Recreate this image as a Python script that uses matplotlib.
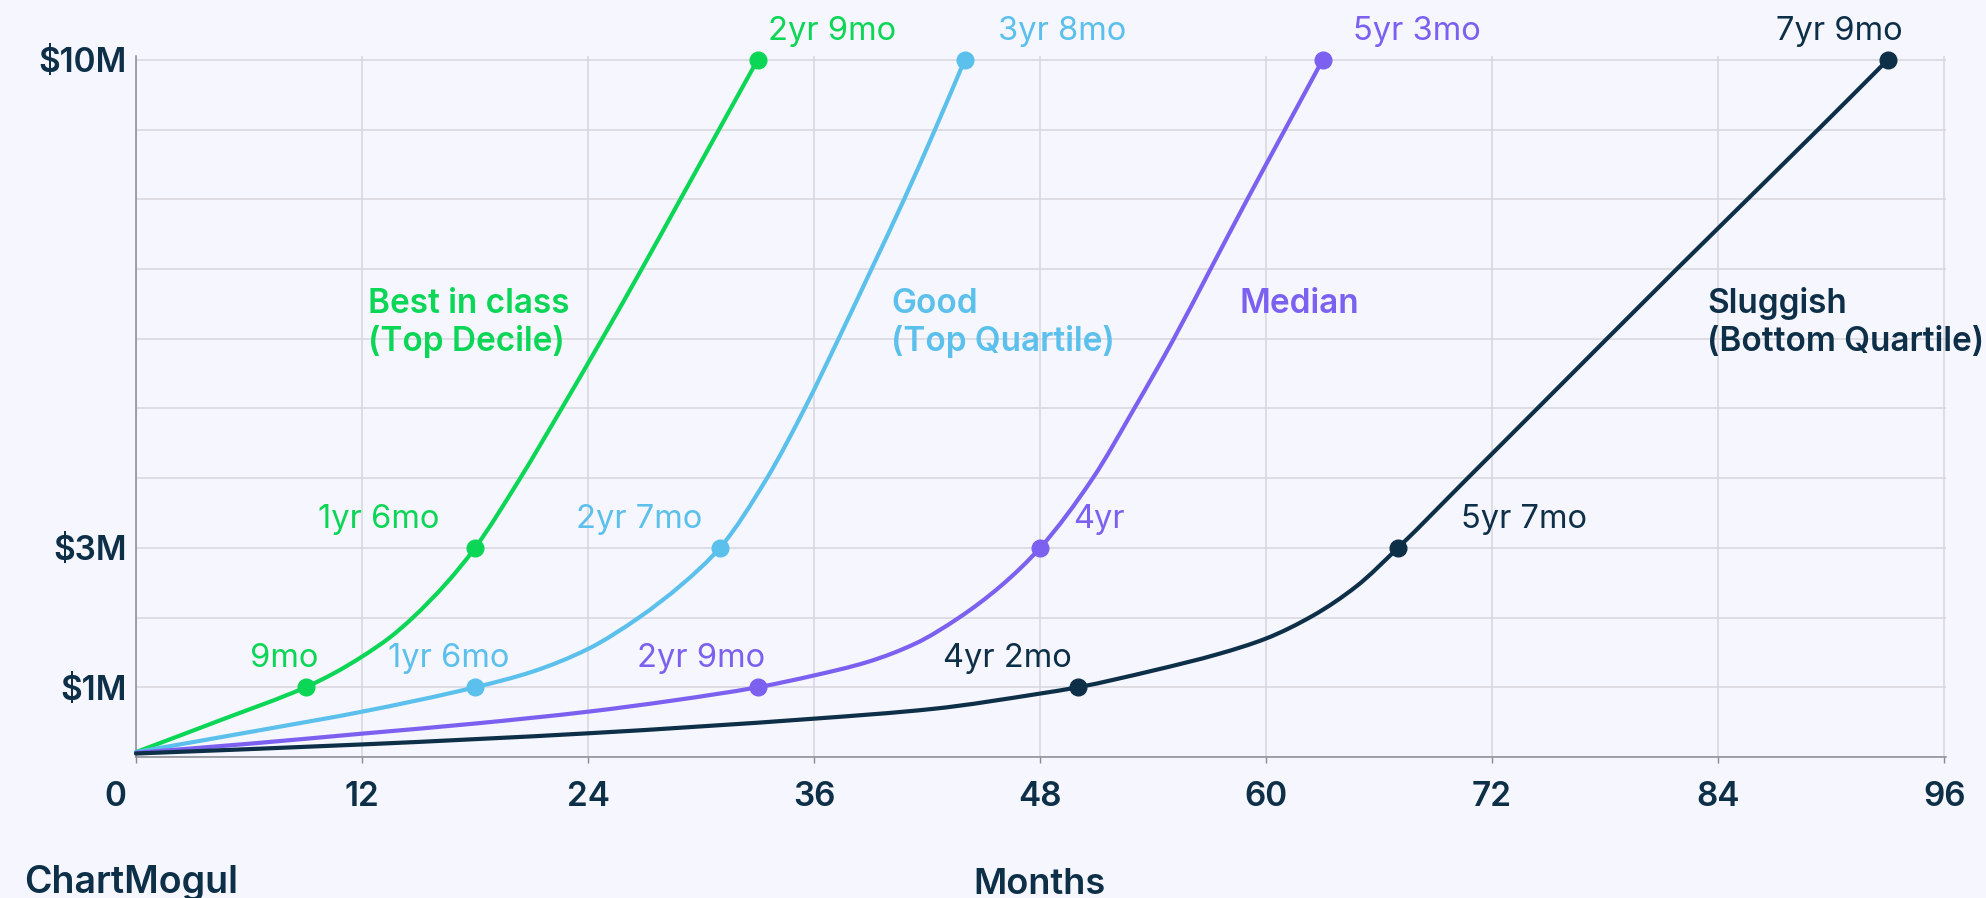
import matplotlib.pyplot as plt
from matplotlib.path import Path
from matplotlib.patches import PathPatch
from matplotlib.transforms import ScaledTranslation

plt.rcParams['font.family'] = ['Inter', 'DejaVu Sans']

# months since start vs ARR ($M), one list pair per cohort
best_months = [0, 4.5, 9, 10.5, 12, 13.5, 14.7, 16.5, 18, 20.4, 22.6, 24.75, 26.85, 28.9, 30.95, 33]
best_arr = [0.07, 0.53, 1.0, 1.2, 1.44, 1.72, 2.0, 2.5, 3.0, 4.0, 5.0, 6.0, 7.0, 8.0, 9.0, 10.0]

good_months = [0, 6.7, 12, 18, 21, 24, 26.7, 29, 31, 33.5, 35.5, 37.3, 39.05, 40.78, 42.42, 44]
good_arr = [0.07, 0.39, 0.65, 1.0, 1.22, 1.55, 2.0, 2.48, 3.0, 4.0, 5.0, 6.0, 7.0, 8.0, 9.0, 10.0]

median_months = [0, 6, 12, 18, 24, 28.5, 33, 36, 38.8, 41.4, 43.7, 45.9, 48, 50.8, 53.0,
                 55.1, 57.05, 59.0, 61.0, 63]
median_arr = [0.06, 0.19, 0.335, 0.48, 0.65, 0.81, 1.0, 1.17, 1.36, 1.63, 2.0, 2.45, 3.0, 4.0, 5.0,
              6.0, 7.0, 8.0, 9.0, 10.0]

slow_months = [0, 12, 24, 36, 42.3, 48, 50, 54, 57.5, 60, 62.5, 64.8, 67, 70.7, 74.4, 81.8, 89.3, 93]
slow_arr = [0.05, 0.18, 0.34, 0.55, 0.69, 0.91, 1.0, 1.24, 1.48, 1.70, 2.03, 2.45, 3.0, 4.0, 5.0, 7.0, 9.0, 10.0]

# milestones ($1M, $3M, $10M) and when each cohort hits them
milestone_arr = [1, 3, 10]
best_hit = [9, 18, 33]
good_hit = [18, 31, 44]
median_hit = [33, 48, 63]
slow_hit = [50, 67, 93]
best_text = ['9mo', '1yr 6mo', '2yr 9mo']
good_text = ['1yr 6mo', '2yr 7mo', '3yr 8mo']
median_text = ['2yr 9mo', '4yr', '5yr 3mo']
slow_text = ['4yr 2mo', '5yr 7mo', '7yr 9mo']

cohort_names = [['Best in class', '(Top Decile)'], ['Good', '(Top Quartile)'],
                ['Median'], ['Sluggish', '(Bottom Quartile)']]

x_ticks = [0, 12, 24, 36, 48, 60, 72, 84, 96]
y_ticks = list(range(0, 11))
y_tick_text = {1: '$1M', 3: '$3M', 10: '$10M'}

GREEN = '#0CD656'
BLUE = '#5BC0EB'
PURPLE = '#7C60EF'
NAVY = '#0E2F48'
BG = '#F5F6FE'
GRID = '#D6D6DC'

series = [
    (best_months, best_arr, best_hit, best_text, GREEN),
    (good_months, good_arr, good_hit, good_text, BLUE),
    (median_months, median_arr, median_hit, median_text, PURPLE),
    (slow_months, slow_arr, slow_hit, slow_text, NAVY),
]

# label offsets in pixels (left edge x) from each milestone dot
label_dx = [[-56, -157, 10], [-87, -144, 33], [-121, 33, 30], [-135, 63, -112]]
# cohort name anchors: left edge in months
name_x = [12.3, 40.1, 58.6, 83.4]


def smooth_path(xs, ys):
    # monotone cubic (Fritsch-Carlson) drawn as bezier segments
    n = len(xs)
    d = [(ys[i + 1] - ys[i]) / (xs[i + 1] - xs[i]) for i in range(n - 1)]
    m = [d[0]] + [0.0] * (n - 2) + [d[-1]]
    for i in range(1, n - 1):
        if d[i - 1] * d[i] <= 0:
            m[i] = 0.0
        else:
            h0 = xs[i] - xs[i - 1]
            h1 = xs[i + 1] - xs[i]
            w1 = 2 * h1 + h0
            w2 = h1 + 2 * h0
            m[i] = (w1 + w2) / (w1 / d[i - 1] + w2 / d[i])
    verts = [(xs[0], ys[0])]
    codes = [Path.MOVETO]
    for i in range(n - 1):
        h = xs[i + 1] - xs[i]
        verts += [(xs[i] + h / 3, ys[i] + m[i] * h / 3),
                  (xs[i + 1] - h / 3, ys[i + 1] - m[i + 1] * h / 3),
                  (xs[i + 1], ys[i + 1])]
        codes += [Path.CURVE4] * 3
    return Path(verts, codes)


fig = plt.figure(figsize=(19.86, 8.98), dpi=100)
fig.patch.set_facecolor(BG)
ax = fig.add_axes([0.06848, 0.15702, 0.9114, 0.7801])
ax.set_facecolor(BG)
ax.set_xlim(0, 96.1)
ax.set_ylim(0, 10.05)

ax.set_xticks(x_ticks)
ax.set_xticklabels([str(t) for t in x_ticks])
ax.set_yticks(y_ticks)
ax.set_yticklabels([y_tick_text.get(t, '') for t in y_ticks])
ax.grid(True, color=GRID, linewidth=1.1, zorder=0)
ax.set_axisbelow(True)
for s in ['top', 'right']:
    ax.spines[s].set_visible(False)
for s in ['left', 'bottom']:
    ax.spines[s].set_color('#8A8A92')
    ax.spines[s].set_linewidth(1.1)
ax.tick_params(axis='x', length=4.5, width=1, color='#8A8A92', pad=13,
               labelsize=24, labelcolor=NAVY)
ax.tick_params(axis='y', length=0, pad=6.5, labelsize=24, labelcolor=NAVY)
for lab in ax.get_xticklabels() + ax.get_yticklabels():
    lab.set_fontweight('semibold')
# the "0" sits left of the origin
lab0 = ax.xaxis.get_major_ticks()[0].label1
lab0.set_transform(lab0.get_transform() + ScaledTranslation(-0.21, 0, fig.dpi_scale_trans))

for i, (mx, arr, hit, txt, col) in enumerate(series):
    ax.add_patch(PathPatch(smooth_path(mx, arr), fill=False, edgecolor=col, linewidth=3.0,
                           capstyle='round', joinstyle='round', clip_on=False, zorder=3))
    ax.plot(hit, milestone_arr, 'o', color=col, markersize=12, clip_on=False, zorder=4)
    for h, v, t, dx in zip(hit, milestone_arr, txt, label_dx[i]):
        ax.annotate(t, xy=(h, v), xytext=(dx, 20), textcoords='offset pixels',
                    ha='left', va='baseline', fontsize=23.5, color=col, annotation_clip=False)
    for k, line in enumerate(cohort_names[i]):
        ax.text(name_x[i], 6.37 - k * 0.545, line, ha='left', va='baseline',
                fontsize=24, fontweight='semibold', color=col, clip_on=False)

fig.text(1040 / 1986, 1 - 894 / 898, 'Months', ha='center', va='baseline',
         fontsize=26, fontweight='semibold', color=NAVY)
fig.text(24 / 1986, 1 - 893 / 898, 'ChartMogul', ha='left', va='baseline',
         fontsize=27, fontweight='semibold', color=NAVY)

fig.savefig('out.png', dpi=100, facecolor=BG)
